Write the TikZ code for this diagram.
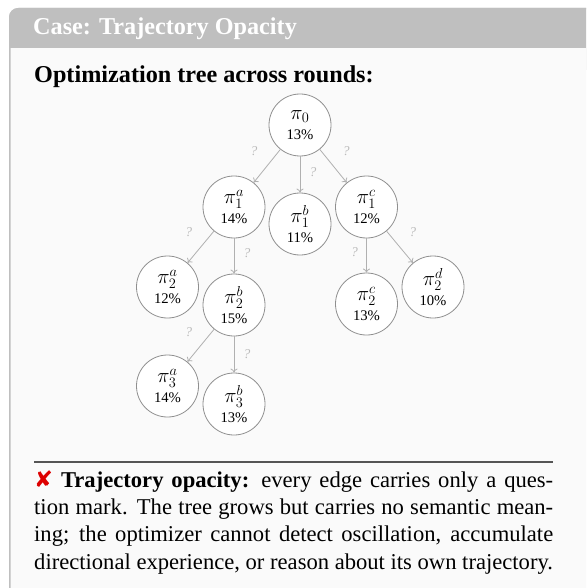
\documentclass[tikz,border=0pt]{standalone}
\usepackage{fontspec}
\setmainfont{Liberation Serif}
\newfontfamily\dejavu{DejaVu Sans}
\usetikzlibrary{arrows.meta}
\DeclareMathSizes{21}{21}{14}{10}
\definecolor{hdrgray}{HTML}{BFBFBF}
\definecolor{bodybg}{HTML}{FAFAFA}
\definecolor{edgegray}{HTML}{B0B0B0}
\definecolor{circgray}{HTML}{8F8F8F}
\definecolor{qgray}{HTML}{BBBBBB}
\definecolor{xred}{HTML}{DD0000}
\definecolor{rulegray}{HTML}{555555}
\newcommand\bodyfnt{\fontsize{22.6}{27.4}\selectfont}
\newcommand\hdrfnt{\fontsize{24.2}{30}\selectfont\bfseries}
\newcommand\ttlfnt{\fontsize{24.2}{30}\selectfont\bfseries}
\newcommand\pimath[1]{{\fontsize{21}{20}\selectfont$#1$}}
\tikzset{
  pnode/.style={circle, draw=circgray, fill=white, line width=0.8pt, minimum size=62pt,
    inner sep=0pt, align=center, font=\fontsize{14.7}{20}\selectfont},
  edgeline/.style={draw=edgegray, line width=0.8pt, -{To[length=4pt,width=7pt]}},
  qlab/.style={font=\fontsize{13.5}{13.5}\selectfont\itshape, text=qgray, inner sep=0pt},
  txtline/.style={anchor=base west, inner sep=0pt, font=\bodyfnt},
}
\begin{document}
\begin{tikzpicture}[x=1pt,y=-1pt]
\useasboundingbox (0,0) rectangle (586,588);
\begin{scope}
\clip (0,0) rectangle (586,588);
\fill[bodybg, rounded corners=9pt] (9,8) rectangle (640,640);
\fill[hdrgray, rounded corners=9pt] (9,8) rectangle (640,70);
\fill[bodybg] (9,48) rectangle (640,640);
\draw[hdrgray, line width=1.5pt, rounded corners=9pt] (9.75,8.75) rectangle (640,640);
\end{scope}

\node[anchor=base west, inner sep=0pt, text=white, font=\hdrfnt] (hdr) at (33,35) {Case: Trajectory Opacity};
\node[anchor=base west, inner sep=0pt, font=\ttlfnt] (ttl) at (34,83) {Optimization tree across rounds:};

% tree
\node[pnode] (p0)  at (300,125)   {\pimath{\pi_0}\\13\%};
\node[pnode] (p1a) at (234,207)   {\pimath{\pi_1^a}\\14\%};
\node[pnode] (p1b) at (300,224)   {\pimath{\pi_1^b}\\11\%};
\node[pnode] (p1c) at (366.5,207) {\pimath{\pi_1^c}\\12\%};
\node[pnode] (p2a) at (167.5,287) {\pimath{\pi_2^a}\\12\%};
\node[pnode] (p2b) at (234,305)   {\pimath{\pi_2^b}\\15\%};
\node[pnode] (p2c) at (366.5,304) {\pimath{\pi_2^c}\\13\%};
\node[pnode] (p2d) at (433,287)   {\pimath{\pi_2^d}\\10\%};
\node[pnode] (p3a) at (167.5,386) {\pimath{\pi_3^a}\\14\%};
\node[pnode] (p3b) at (234,404)   {\pimath{\pi_3^b}\\13\%};

\draw[edgeline] (p0) -- node[qlab, midway, xshift=-13pt, yshift=15pt] {?} (p1a);
\draw[edgeline] (p0) -- node[qlab, midway, xshift=13pt, yshift=2pt] {?} (p1b);
\draw[edgeline] (p0) -- node[qlab, midway, xshift=13pt, yshift=15pt] {?} (p1c);
\draw[edgeline] (p1a) -- node[qlab, midway, xshift=-12pt, yshift=15pt] {?} (p2a);
\draw[edgeline] (p1a) -- node[qlab, midway, xshift=13pt, yshift=3pt] {?} (p2b);
\draw[edgeline] (p1c) -- node[qlab, midway, xshift=-12pt, yshift=3pt] {?} (p2c);
\draw[edgeline] (p1c) -- node[qlab, midway, xshift=13pt, yshift=15pt] {?} (p2d);
\draw[edgeline] (p2b) -- node[qlab, midway, xshift=-12pt, yshift=13.5pt] {?} (p3a);
\draw[edgeline] (p2b) -- node[qlab, midway, xshift=13pt, yshift=0pt] {?} (p3b);

% rule and text
\coordinate (rl) at (34,462);
\coordinate (rr) at (553,462);
\draw[rulegray, line width=1.2pt] (rl) -- (rr);

\node[txtline] (l1) at (34,487) {\makebox[519pt][s]{{\dejavu\color{xred}✘} \textbf{Trajectory opacity:} every edge carries only a ques-}};
\node[txtline] (l2) at (34,514.4) {\makebox[519pt][s]{tion mark. The tree grows but carries no semantic mean-}};
\node[txtline] (l3) at (34,541.8) {\makebox[519pt][s]{ing; the optimizer cannot detect oscillation, accumulate}};
\node[txtline] (l4) at (34,569.2) {directional experience, or reason about its own trajectory.};
\end{tikzpicture}
\end{document}
